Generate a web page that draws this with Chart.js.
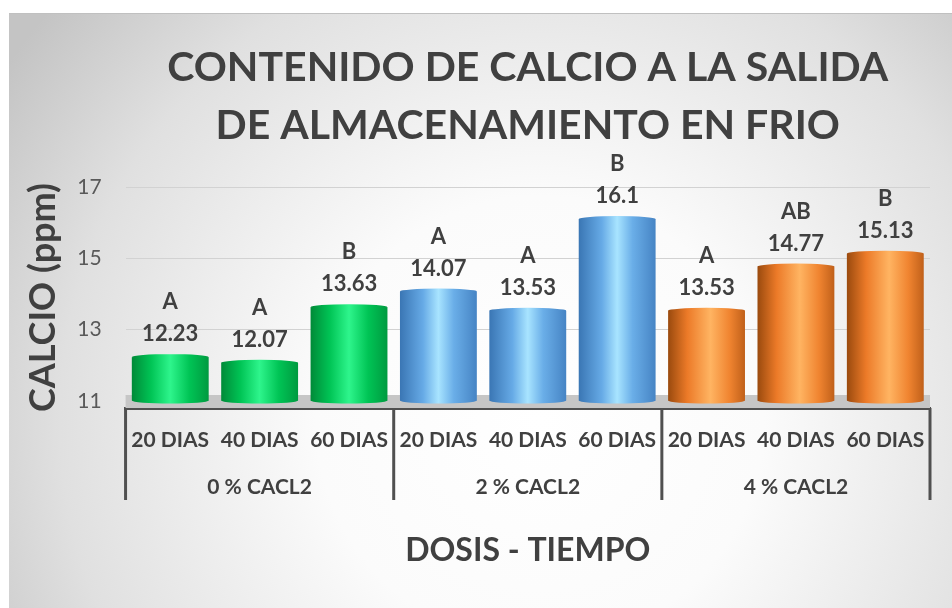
<!DOCTYPE html>
<html>
<head>
<meta charset="utf-8">
<script src="https://cdn.jsdelivr.net/npm/chart.js@4.4.1/dist/chart.umd.min.js"></script>
<style>
  html, body { margin: 0; padding: 0; background: #fff; }
  #wrap { width: 952px; height: 608px; }
</style>
</head>
<body>
<div id="wrap"><canvas id="calcioChart" width="952" height="608"></canvas></div>
<script>
// Datos del gráfico
const dias = ['20 DIAS', '40 DIAS', '60 DIAS', '20 DIAS', '40 DIAS', '60 DIAS', '20 DIAS', '40 DIAS', '60 DIAS'];
const dosis = ['0 % CACL2', '2 % CACL2', '4 % CACL2'];
const calcio = [12.23, 12.07, 13.63, 14.07, 13.53, 16.1, 13.53, 14.77, 15.13];
const letras = ['A', 'A', 'B', 'A', 'A', 'B', 'A', 'AB', 'B'];
const yTicks = [11, 13, 15, 17];

// Colores tipo cilindro por grupo de dosis
const gradStops = [
    [[0, '#008a38'], [0.25, '#00c455'], [0.5, '#2ef58c'], [0.75, '#00c455'], [1, '#009a40']],
    [[0, '#3a76b4'], [0.3, '#66aae6'], [0.5, '#a8e4ff'], [0.7, '#6aaee8'], [1, '#4684c4']],
    [[0, '#9a4a0e'], [0.25, '#ec7a28'], [0.55, '#ffb462'], [0.8, '#f08430'], [1, '#c0601a']]
];

const FONT = 'Lato, "Open Sans", sans-serif';
const GRIS = '#404040';

function barGradient(ctx) {
    const chart = ctx.chart;
    if (!chart.chartArea || ctx.dataIndex === undefined) return '#00b050';
    const xs = chart.scales.x;
    const cx = xs.getPixelForValue(ctx.dataIndex);
    const half = (xs.getPixelForValue(1) - xs.getPixelForValue(0)) * 0.86 / 2;
    const g = chart.ctx.createLinearGradient(cx - half, 0, cx + half, 0);
    gradStops[Math.floor(ctx.dataIndex / 3)].forEach(s => g.addColorStop(s[0], s[1]));
    return g;
}

// Fondo gris degradado
const fondo = {
    id: 'fondo',
    beforeDraw(chart) {
        const c = chart.ctx;
        c.save();
        c.fillStyle = '#ffffff';
        c.fillRect(0, 0, chart.width, chart.height);
        const g = c.createRadialGradient(540, 420, 0, 540, 420, 640);
        g.addColorStop(0, '#ffffff');
        g.addColorStop(0.35, '#fbfbfb');
        g.addColorStop(0.75, '#e0e0e0');
        g.addColorStop(1, '#c4c4c4');
        c.fillStyle = g;
        c.fillRect(9, 13, chart.width - 9, chart.height - 13);
        c.fillStyle = '#c0c0c0';
        c.fillRect(9, 13, chart.width - 9, 1);
        c.restore();
    }
};

// Piso gris bajo las barras
const piso = {
    id: 'piso',
    beforeDatasetsDraw(chart) {
        const c = chart.ctx;
        const a = chart.chartArea;
        const y11 = chart.scales.y.getPixelForValue(11);
        c.save();
        c.fillStyle = '#c6c6c6';
        c.fillRect(a.left, y11 - 6, a.right - a.left, a.bottom - y11 + 6);
        c.restore();
    }
};

// Tapas elípticas y etiquetas de datos
const etiquetas = {
    id: 'etiquetas',
    afterDatasetsDraw(chart) {
        const c = chart.ctx;
        const meta = chart.getDatasetMeta(0);
        c.save();
        meta.data.forEach((bar, i) => {
            const w = bar.width / 2;
            c.fillStyle = bar.options.backgroundColor;
            c.beginPath();
            c.ellipse(bar.x, bar.y, w, 3, 0, 0, Math.PI * 2);
            c.fill();
            c.beginPath();
            c.ellipse(bar.x, bar.base, w, 3, 0, 0, Math.PI * 2);
            c.fill();

            c.fillStyle = GRIS;
            c.font = 'bold 22px ' + FONT;
            c.textAlign = 'center';
            c.textBaseline = 'middle';
            c.fillText(letras[i], bar.x, bar.y - 55);
            c.fillText(String(calcio[i]), bar.x, bar.y - 23);
        });
        c.restore();
    }
};

// Líneas separadoras de grupos en el eje X
const separadores = {
    id: 'separadores',
    afterDraw(chart) {
        const c = chart.ctx;
        const xs = chart.scales.x;
        const half = (xs.getPixelForValue(1) - xs.getPixelForValue(0)) / 2;
        c.save();
        c.strokeStyle = '#505050';
        c.lineWidth = 3;
        [0, 3, 6, 9].forEach(i => {
            const px = i < 9 ? xs.getPixelForValue(i) - half : xs.getPixelForValue(8) + half;
            c.beginPath();
            c.moveTo(px, xs.top);
            c.lineTo(px, xs.top + 92);
            c.stroke();
        });
        c.restore();
    }
};

new Chart(document.getElementById('calcioChart'), {
    type: 'bar',
    data: {
        labels: dias,
        datasets: [{
            data: calcio,
            base: 11,
            backgroundColor: barGradient,
            borderWidth: 0,
            categoryPercentage: 1,
            barPercentage: 0.86
        }]
    },
    options: {
        responsive: false,
        animation: false,
        devicePixelRatio: 1,
        layout: { padding: { left: 5, right: 22, top: 0, bottom: 0 } },
        plugins: {
            legend: { display: false },
            tooltip: { enabled: false },
            title: {
                display: true,
                fullSize: false,
                text: ['CONTENIDO DE CALCIO A LA SALIDA', 'DE ALMACENAMIENTO EN FRIO'],
                color: GRIS,
                font: { family: FONT, size: 41, weight: 'bold', lineHeight: 58 / 41 },
                padding: { top: 38.5, bottom: 32.5 }
            }
        },
        scales: {
            y: {
                min: 10.804,
                max: 17,
                afterBuildTicks(scale) {
                    scale.ticks = yTicks.map(v => ({ value: v }));
                },
                grid: { color: '#d2d2d2', lineWidth: 1, drawTicks: true, tickLength: 12, tickColor: 'rgba(0,0,0,0)' },
                border: { display: false },
                ticks: {
                    color: '#595959',
                    padding: 12,
                    font: { family: FONT, size: 21 }
                },
                title: {
                    display: true,
                    text: 'CALCIO (ppm)',
                    color: GRIS,
                    font: { family: FONT, size: 36, weight: 'bold', lineHeight: 1.2 },
                    padding: { top: 17, bottom: 0 }
                }
            },
            x: {
                grid: { display: false, drawTicks: false },
                border: { display: true, color: '#505050', width: 3 },
                ticks: {
                    color: GRIS,
                    padding: 20,
                    maxRotation: 0,
                    autoSkip: false,
                    font: { family: FONT, size: 21, weight: 'bold', lineHeight: 24 / 21 }
                }
            },
            x2: {
                type: 'category',
                position: 'bottom',
                labels: dosis,
                offset: true,
                grid: { display: false, drawTicks: false },
                border: { display: false },
                ticks: {
                    color: GRIS,
                    padding: 3,
                    maxRotation: 0,
                    font: { family: FONT, size: 21, weight: 'bold', lineHeight: 24 / 21 }
                },
                title: {
                    display: true,
                    text: 'DOSIS - TIEMPO',
                    color: GRIS,
                    font: { family: FONT, size: 32, weight: 'bold', lineHeight: 1.2 },
                    padding: { top: 29.8, bottom: 37.8 }
                }
            }
        }
    },
    plugins: [fondo, piso, etiquetas, separadores]
});
</script>
</body>
</html>
